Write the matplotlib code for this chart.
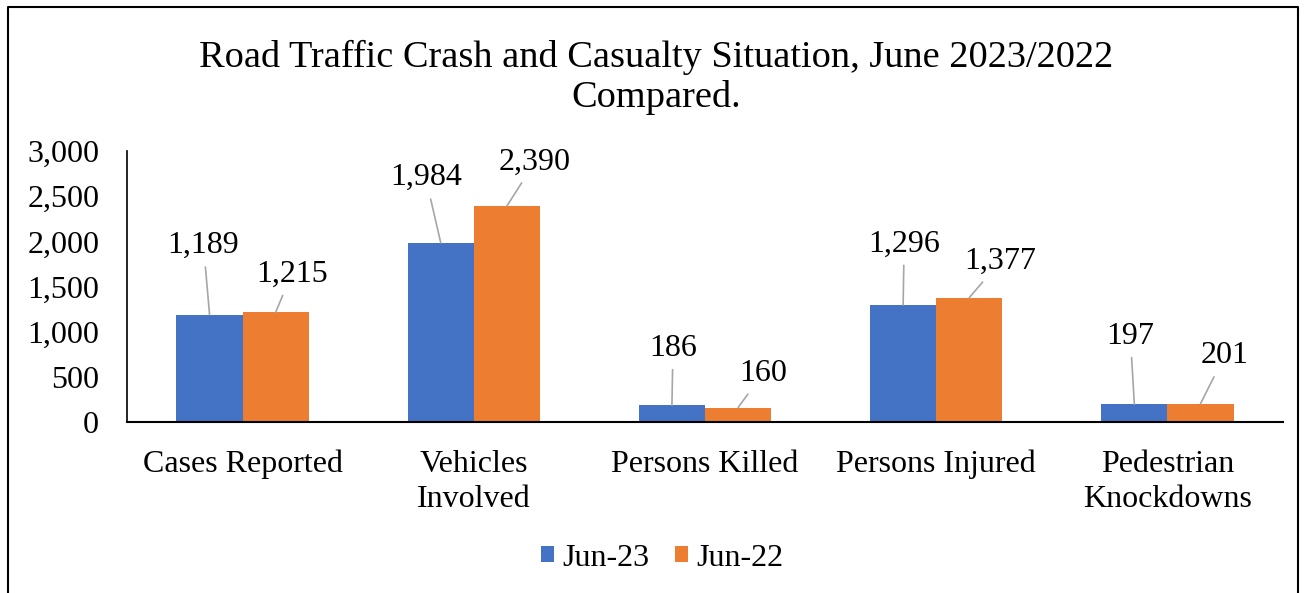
import matplotlib
matplotlib.use("Agg")
import matplotlib.pyplot as plt
from matplotlib.lines import Line2D
import numpy as np

plt.rcParams['font.family'] = ['Liberation Serif', 'DejaVu Serif']

categories = ["Cases Reported", "Vehicles\nInvolved", "Persons Killed",
              "Persons Injured", "Pedestrian\nKnockdowns"]
jun23 = [1189, 1984, 186, 1296, 197]
jun22 = [1215, 2390, 160, 1377, 201]
series_names = ["Jun-23", "Jun-22"]

# label offsets in pixels (dx, dy) from the top of each bar
off23 = [(-6, 69), (-15, 65), (1, 57), (1, 61), (-4, 68)]
off22 = [(16, 38), (28, 44), (25, 34), (31, 36), (24, 48)]

blue = "#4472C4"
orange = "#ED7D31"
grey = "#A6A6A6"

W, H = 1304, 593
fig = plt.figure(figsize=(W / 100, H / 100), dpi=100)
ax = fig.add_axes([127 / W, 1 - 422 / H, (1283 - 127) / W, (422 - 151) / H])

x = np.arange(len(categories))
bw = 0.286
b1 = ax.bar(x - bw / 2, jun23, bw, color=blue, label=series_names[0])
b2 = ax.bar(x + bw / 2, jun22, bw, color=orange, label=series_names[1])

for bars, vals, offs in ((b1, jun23, off23), (b2, jun22, off22)):
    for r, v, (dx, dy) in zip(bars, vals, offs):
        ax.annotate(f"{v:,}", xy=(r.get_x() + r.get_width() / 2, v),
                    xytext=(dx, dy), textcoords="offset pixels",
                    ha="center", va="center", fontsize=23,
                    arrowprops=dict(arrowstyle="-", color=grey, lw=1.2,
                                    shrinkA=3, shrinkB=0))

ax.set_xlim(-0.5, len(categories) - 0.5)
ax.set_ylim(0, 3000)
ax.set_yticks(range(0, 3001, 500))
ax.set_yticklabels([f"{t:,}" for t in range(0, 3001, 500)])
ax.set_xticks(x)
ax.set_xticklabels(categories, linespacing=1.3)
ax.tick_params(axis="both", length=0, labelsize=23)
ax.tick_params(axis="x", pad=20)
ax.tick_params(axis="y", pad=20)
for s in ("top", "right"):
    ax.spines[s].set_visible(False)
ax.spines["left"].set_linewidth(1.2)
ax.spines["bottom"].set_linewidth(1.5)

fig.text(0.503, 1 - 77 / H, "Road Traffic Crash and Casualty Situation, June 2023/2022\nCompared.",
         ha="center", va="center", fontsize=27.6, linespacing=1.18)

fig.legend(loc="center", bbox_to_anchor=(0.5 + 10 / W, 1 - 558 / H), ncol=2, frameon=False,
           fontsize=23, handlelength=0.42, handleheight=0.42, handletextpad=0.25,
           columnspacing=0.8)

# outer border (bottom is cut off)
fig.add_artist(Line2D([8 / W, 8 / W, 1298 / W, 1298 / W], [0, 1 - 7 / H, 1 - 7 / H, 0],
                      transform=fig.transFigure, color="black", lw=1.5))

fig.savefig("out.png", dpi=100)
